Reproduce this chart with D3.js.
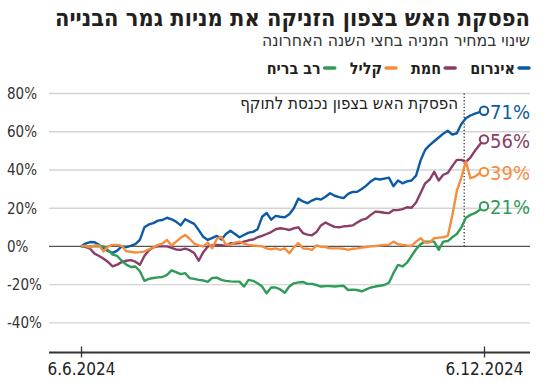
<!DOCTYPE html>
<html>
<head>
<meta charset="utf-8">
<script src="https://cdn.jsdelivr.net/npm/d3@7"></script>
<style>
  body { margin: 0; background: #fff; }
  svg { display: block; }
  .narrow { font-family: 'Liberation Sans Narrow', 'DejaVu Sans Condensed', sans-serif; }
  .heb { font-family: 'DejaVu Sans Condensed', 'Liberation Sans', sans-serif; }
</style>
</head>
<body>
<script>
var seriesNames = ["אינרום", "חמת", "קליל", "רב בריח"];
var seriesColors = ["#0c5aa6", "#8a3d66", "#f58d3f", "#2e9c57"];

// % change since 6.6.2024 (about every two days)
var inrom = [0, 1.5, 2.3, 2.2, 0.8, -1, -2.5, -3.4, -2.2, 0,
  -0.3, 0.3, 1.2, 3.4, 10, 11.5, 12.2, 13.5, 13.8, 15,
  14.2, 13, 11, 14.2, 13, 11.8, 8.5, 5, 3.4, 4.5,
  5.5, 3.6, 6.5, 8.2, 6.5, 4.8, 6, 7.2, 7.6, 9,
  15.5, 17.5, 14, 16, 15.5, 15.2, 16.8, 20, 25, 23.5,
  22.6, 24, 25, 24.5, 26, 27.8, 26.5, 25.8, 25.3, 27.5,
  28.5, 28.6, 30, 31.8, 34, 35.5, 35, 35.5, 36, 31.5,
  34.5, 33, 34, 34.5, 37, 45, 50.5, 53, 55, 57,
  59, 60.5, 58.5, 59.2, 64, 67, 68.5, 69.5, 70.3, 71];
var hamat = [0, -0.3, -1.2, -3.8, -5, -6.5, -8.2, -10.4, -9.5, -8.2,
  -7.5, -7.2, -8, -9.6, -5, -2, -0.5, 0, 0, 0,
  -0.8, -1.6, -1.8, -1.2, -2, -3.5, -7.5, -3, 0, 0.5,
  0.8, 0.6, 0.3, 1.7, 1.5, 1.8, 2.5, 3.2, 3.6, 4.8,
  5.5, 6.5, 7.5, 9, 9.5, 9.2, 8.6, 9.5, 10, 7,
  6.2, 5.8, 7.5, 11, 12.5, 11.3, 10.2, 10, 10.5, 10.7,
  11, 12.5, 13.9, 14.5, 16.5, 18.2, 18, 17.6, 17.4, 19,
  19, 19.5, 20.5, 20.2, 23, 28, 33, 35, 39, 34.5,
  37.5, 38.5, 42, 45.3, 45.3, 44.2, 46.5, 50, 53, 56];
var kalil = [0, 0.3, -0.5, 0.5, 0.5, -2.7, 0, 0.8, 0.8, 0.3,
  -2.5, -2.8, -3.2, -3, -2.7, -1.5, -0.5, 0.8, 1.5, 3.4,
  0.5, 2.5, 4.5, 6, 4, 1.5, 0.5, 0, 2, -1,
  4, 5, 1, 0.8, 2, 2.5, 1.5, 0.8, 0.5, 0.3,
  0, -1, -1.5, -1, -1.8, -1, -3.6, -0.5, 1.7, -1,
  -1.2, -1.8, 0.5, -0.2, -0.3, -1, -1, -1, -1.2, -1.8,
  -1.2, -1, -0.6, -0.3, 0, 0.2, 0.5, 0.8, 0.8, 2.5,
  1.2, 0.8, 0.5, 0.3, 2.5, 4.3, 2, 2, 4.3, 4.6,
  4.8, 5.5, 16, 29, 36, 44.4, 35.7, 36.5, 38.3, 39];
var ravBariach = [0, 0, 0, 0, 0, 0, -2, -4.3, -5, -7.5,
  -9.5, -10.8, -10.5, -13, -18, -17, -16.5, -16.2, -16, -14.9,
  -12.5, -13.5, -14.5, -14, -16.6, -17, -17.5, -17.8, -18.5, -16.5,
  -16.3, -17.5, -18, -18.3, -18.4, -18.4, -21, -17.5, -18, -19.3,
  -21, -24.5, -21.5, -21.5, -22.5, -24.2, -21, -19.3, -18.8, -18.6,
  -19.6, -19.6, -20.2, -21, -20.8, -20.8, -21, -20.8, -20.6, -22.8,
  -22.6, -22.8, -23.5, -22.5, -21.5, -21, -20.6, -20.2, -19, -14,
  -9.7, -10.5, -8.5, -5, -1.5, 1.2, 2.5, 2.5, 2.5, -1.8,
  2.5, 2.8, 4.8, 6.5, 10, 15, 16.5, 17.4, 19, 21];

var yTicks = [-40, -20, 0, 20, 40, 60, 80];
var xTickLabels = ["6.6.2024", "6.12.2024"];
var startDate = new Date(2024, 5, 6);
var endDate = new Date(2024, 11, 6);
var ceasefireDate = new Date(2024, 10, 27);

var titleText = "הפסקת האש בצפון הזניקה את מניות גמר הבנייה";
var subtitleText = "שינוי במחיר המניה בחצי השנה האחרונה";
var noteText = "הפסקת האש בצפון נכנסת לתוקף";

var series = [inrom, hamat, kalil, ravBariach];

var svg = d3.select("body").append("svg").attr("width", 550).attr("height", 387);

var x = d3.scaleTime().domain([startDate, endDate]).range([81, 484]);
var y = d3.scaleLinear().domain([-55.5, 80]).range([352.5, 93.5]);
var dayAt = d3.scaleLinear().domain([0, inrom.length - 1]).range([startDate, endDate]);

// grid
svg.selectAll("line.grid")
  .data(yTicks)
  .enter().append("line")
  .attr("class", "grid")
  .attr("x1", 49).attr("x2", 530)
  .attr("y1", function (d) { return y(d); })
  .attr("y2", function (d) { return y(d); })
  .attr("stroke", function (d) { return d === 0 ? "#555" : "#d4d4d4"; })
  .attr("stroke-width", function (d) { return d === 0 ? 1.3 : 1.4; });

svg.selectAll("text.ylab")
  .data(yTicks)
  .enter().append("text")
  .attr("class", "ylab narrow")
  .attr("x", 7)
  .attr("y", function (d) { return y(d); })
  .attr("dy", "0.36em")
  .attr("font-size", 15)
  .attr("fill", "#333")
  .text(function (d) { return d + "%"; });

// bottom axis
svg.append("line")
  .attr("x1", 49).attr("x2", 530)
  .attr("y1", y(-55.5)).attr("y2", y(-55.5))
  .attr("stroke", "#333").attr("stroke-width", 2);

var xAxis = d3.axisBottom(x)
  .tickValues([startDate, endDate])
  .tickFormat(function (d, i) { return xTickLabels[i]; })
  .tickSize(5);

var gx = svg.append("g")
  .attr("transform", "translate(0," + y(-55.5) + ")")
  .call(xAxis);
gx.select(".domain").remove();
gx.selectAll(".tick line").attr("y1", -6).attr("y2", 5).attr("stroke", "#333").attr("stroke-width", 1.3);
gx.selectAll(".tick text")
  .attr("class", "narrow")
  .attr("font-size", 17)
  .attr("fill", "#222")
  .attr("y", 10)
  .attr("dy", "0.71em");

// ceasefire marker
svg.append("line")
  .attr("x1", x(ceasefireDate)).attr("x2", x(ceasefireDate))
  .attr("y1", y(80)).attr("y2", y(0) + 1.5)
  .attr("stroke", "#222")
  .attr("stroke-width", 1.2)
  .attr("stroke-dasharray", "1.3,2");

svg.append("text")
  .attr("class", "heb")
  .attr("x", x(ceasefireDate) - 6)
  .attr("y", 109)
  .attr("text-anchor", "end")
  .attr("font-size", 17)
  .attr("fill", "#222")
  .attr("textLength", 218)
  .attr("lengthAdjust", "spacingAndGlyphs")
  .text(noteText);

// lines
var line = d3.line()
  .x(function (d, i) { return x(dayAt(i)); })
  .y(function (d) { return y(d); });

var drawOrder = [1, 0, 3, 2];
svg.selectAll("path.series")
  .data(drawOrder)
  .enter().append("path")
  .attr("class", "series")
  .attr("d", function (k) { return line(series[k]); })
  .attr("fill", "none")
  .attr("stroke", function (k) { return seriesColors[k]; })
  .attr("stroke-width", 2.4)
  .attr("stroke-linejoin", "round");

// end markers and labels
svg.selectAll("circle.end")
  .data(series)
  .enter().append("circle")
  .attr("class", "end")
  .attr("cx", x(endDate))
  .attr("cy", function (d) { return y(d[d.length - 1]); })
  .attr("r", 4.2)
  .attr("fill", "#fff")
  .attr("stroke", function (d, i) { return seriesColors[i]; })
  .attr("stroke-width", 2);

svg.selectAll("text.endlab")
  .data(series)
  .enter().append("text")
  .attr("class", "endlab narrow")
  .attr("x", x(endDate) + 6)
  .attr("y", function (d) { return y(d[d.length - 1]) + 1; })
  .attr("dy", "0.36em")
  .attr("font-size", 20)
  .attr("fill", function (d, i) { return seriesColors[i]; })
  .text(function (d) { return Math.round(d[d.length - 1]) + "%"; });

// title
svg.append("text")
  .attr("class", "heb")
  .attr("x", 530).attr("y", 26)
  .attr("text-anchor", "end")
  .attr("font-size", 23)
  .attr("font-weight", "bold")
  .attr("fill", "#231f20")
  .attr("textLength", 475)
  .attr("lengthAdjust", "spacingAndGlyphs")
  .text(titleText);

svg.append("text")
  .attr("class", "heb")
  .attr("x", 530).attr("y", 46)
  .attr("text-anchor", "end")
  .attr("font-size", 17)
  .attr("fill", "#333")
  .attr("textLength", 268)
  .attr("lengthAdjust", "spacingAndGlyphs")
  .text(subtitleText);

// legend
var legend = svg.append("g");
var cursor = 530;
seriesNames.forEach(function (name, i) {
  legend.append("line")
    .attr("x1", cursor - 11).attr("x2", cursor - 1)
    .attr("y1", 68).attr("y2", 68)
    .attr("stroke", seriesColors[i])
    .attr("stroke-width", 3.5)
    .attr("stroke-linecap", "round");
  var t = legend.append("text")
    .attr("class", "heb")
    .attr("x", cursor - 15).attr("y", 73.5)
    .attr("text-anchor", "end")
    .attr("font-size", 16)
    .attr("font-weight", "bold")
    .attr("fill", "#231f20")
    .text(name);
  cursor = cursor - 15 - t.node().getComputedTextLength() - 14;
});
</script>
</body>
</html>
